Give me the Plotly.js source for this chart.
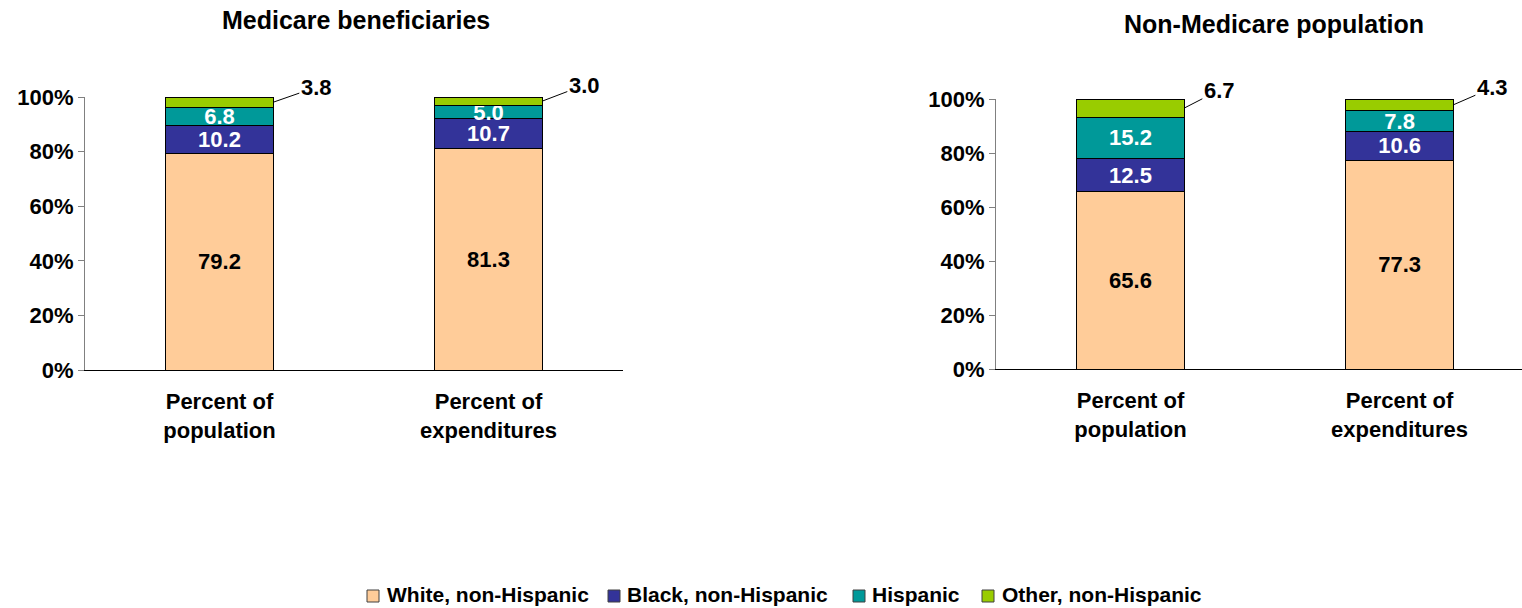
<!DOCTYPE html>
<html>
<head>
<meta charset="utf-8">
<script src="https://cdn.plot.ly/plotly-3.0.1.min.js"></script>
<style>
  html, body { margin: 0; padding: 0; background: #fff; }
  #chart { width: 1522px; height: 608px; }
</style>
</head>
<body>
<div id="chart"></div>
<script>
// Share of population and of health spending by race/ethnicity
const categories = ['Percent of<br>population', 'Percent of<br>expenditures'];
const groups = ['White, non-Hispanic', 'Black, non-Hispanic', 'Hispanic', 'Other, non-Hispanic'];

const medicareWhite = [79.2, 81.3];
const medicareBlack = [10.2, 10.7];
const medicareHispanic = [6.8, 5.0];
const medicareOther = [3.8, 3.0];

const nonMedicareWhite = [65.6, 77.3];
const nonMedicareBlack = [12.5, 10.6];
const nonMedicareHispanic = [15.2, 7.8];
const nonMedicareOther = [6.7, 4.3];

const panelTitles = ['Medicare beneficiaries', 'Non-Medicare population'];
const yTickValues = [0, 20, 40, 60, 80, 100];
const yTickLabels = ['0%', '20%', '40%', '60%', '80%', '100%'];

const colors = ['#FFCC99', '#333399', '#009999', '#99CC00'];
const labelColors = ['#000000', '#FFFFFF', '#FFFFFF', null];
const FONT = 'Liberation Sans, Arial, Helvetica, sans-serif';
const W = 1522, H = 608;
const boldFont = (size, color) => ({ family: FONT, size: size, color: color || '#000000', weight: 'bold' });

function panelTraces(series, xa, ya) {
  return series.map((vals, i) => {
    const t = {
      type: 'bar',
      name: groups[i],
      x: categories,
      y: vals,
      xaxis: xa,
      yaxis: ya,
      width: 0.4,
      showlegend: false,
      marker: { color: colors[i], line: { color: '#000000', width: 1 } },
      hoverinfo: 'skip',
      cliponaxis: false
    };
    if (labelColors[i]) {
      t.text = vals.map(v => v.toFixed(1));
      t.texttemplate = '%{text}';
      t.textposition = 'inside';
      t.insidetextanchor = 'middle';
      t.textangle = 0;
      t.constraintext = 'none';
      t.textfont = boldFont(22, labelColors[i]);
    } else {
      t.textposition = 'none';
    }
    return t;
  });
}

const traces = [
  ...panelTraces([medicareWhite, medicareBlack, medicareHispanic, medicareOther], 'x', 'y'),
  ...panelTraces([nonMedicareWhite, nonMedicareBlack, nonMedicareHispanic, nonMedicareOther], 'x2', 'y2')
];

// Leader-line callouts for the thin "Other" segments at the top of each bar
function otherCallouts(other, xa, ya, offsets) {
  return other.map((v, i) => ({
    xref: xa, yref: ya,
    x: i + 0.2, y: 100 - v / 2,
    text: v.toFixed(1),
    showarrow: true, arrowhead: 0, arrowwidth: 1, arrowcolor: '#000000',
    ax: offsets[i][0], ay: offsets[i][1],
    standoff: 0,
    font: boldFont(22)
  }));
}

// Compact legend row along the bottom: swatch + label per group
const legendSwatchX = [367, 608, 853, 982];
const legendTextX = [385, 625, 870, 1000];
const legendShapes = groups.map((g, i) => ({
  type: 'rect', xref: 'paper', yref: 'paper',
  x0: legendSwatchX[i] / W, x1: (legendSwatchX[i] + 12) / W,
  y0: 1 - 602 / H, y1: 1 - 590 / H,
  fillcolor: colors[i], line: { color: '#404040', width: 1 }
}));
const legendLabels = groups.map((g, i) => ({
  xref: 'paper', yref: 'paper',
  x: legendTextX[i] / W, y: 1 - 594 / H,
  xanchor: 'left', yanchor: 'middle', showarrow: false,
  text: g, font: boldFont(21)
}));

const annotations = [
  ...otherCallouts(medicareOther, 'x', 'y', [[43, -15], [42, -16]]),
  ...otherCallouts(nonMedicareOther, 'x2', 'y2', [[35, -18], [39, -17]]),
  {
    xref: 'paper', yref: 'paper', x: 356 / W, y: 1 - 20 / H,
    xanchor: 'center', yanchor: 'middle', showarrow: false,
    text: panelTitles[0], font: boldFont(25)
  },
  {
    xref: 'paper', yref: 'paper', x: 1274 / W, y: 1 - 24 / H,
    xanchor: 'center', yanchor: 'middle', showarrow: false,
    text: panelTitles[1], font: boldFont(25)
  },
  ...legendLabels
];

function xAxis(domain, range, yanchor) {
  return {
    domain: domain, range: range, anchor: yanchor,
    type: 'category', showgrid: false, zeroline: false,
    showline: true, linecolor: '#000000', linewidth: 1,
    ticks: '', ticklabelstandoff: 12,
    tickfont: boldFont(22), fixedrange: true
  };
}
function yAxis(domain, xanchor) {
  return {
    domain: domain, range: [0, 100], anchor: xanchor,
    tickmode: 'array', tickvals: yTickValues, ticktext: yTickLabels,
    showgrid: false, zeroline: false,
    showline: true, linecolor: '#808080', linewidth: 1,
    ticks: 'outside', ticklen: 6, tickcolor: '#808080',
    tickfont: boldFont(22), fixedrange: true
  };
}

const layout = {
  width: W, height: H,
  margin: { l: 0, r: 0, t: 0, b: 0 },
  paper_bgcolor: '#FFFFFF', plot_bgcolor: 'rgba(0,0,0,0)',
  barmode: 'stack',
  showlegend: false,
  xaxis: xAxis([85 / W, 623 / W], [-0.5, 1.5], 'y'),
  yaxis: yAxis([1 - 370 / H, 1 - 97 / H], 'x'),
  xaxis2: xAxis([996 / W, 1], [-0.5, 1.455], 'y2'),
  yaxis2: yAxis([1 - 369 / H, 1 - 99 / H], 'x2'),
  shapes: legendShapes,
  annotations: annotations
};

Plotly.newPlot('chart', traces, layout, { staticPlot: true, displayModeBar: false });
</script>
</body>
</html>
